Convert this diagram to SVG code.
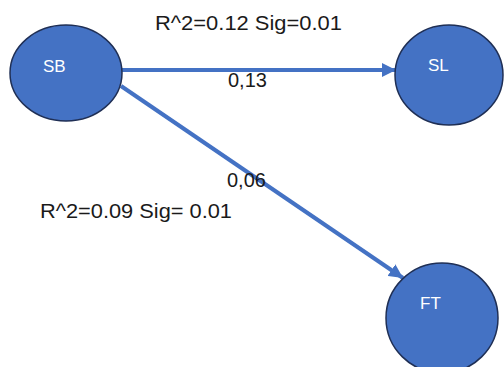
<svg xmlns="http://www.w3.org/2000/svg" width="504" height="367" viewBox="0 0 504 367">
<style>
.node{fill:#4472C4;stroke:#1F2F55;stroke-width:1.5}
.nl{font-family:"Liberation Sans",Arial,sans-serif;font-size:17px;fill:#ffffff}
.lbl{font-family:"Liberation Sans",Arial,sans-serif;font-size:20px;fill:#1a1a1a}
.edge{stroke:#4472C4;stroke-width:4;fill:none}
</style>
<defs>
<marker id="ah" markerUnits="userSpaceOnUse" markerWidth="16" markerHeight="14" refX="14" refY="7" orient="auto">
<path d="M0,0 L14,7 L0,14 Z" fill="#4472C4"/>
</marker>
</defs>
<rect width="504" height="367" fill="#ffffff"/>
<g id="connectors">
<line class="edge" x1="122" y1="70" x2="396" y2="70" marker-end="url(#ah)"/>
<line class="edge" x1="121" y1="86" x2="403" y2="278" marker-end="url(#ah)"/>
</g>
<g id="SB">
<ellipse class="node" cx="66" cy="73" rx="56" ry="48"/>
<text class="nl" x="43" y="72">SB</text>
</g>
<g id="SL">
<ellipse class="node" cx="449" cy="75" rx="54" ry="50"/>
<text class="nl" x="428" y="71">SL</text>
</g>
<g id="FT">
<ellipse class="node" cx="442" cy="318" rx="56" ry="55"/>
<text class="nl" x="420" y="309">FT</text>
</g>
<g id="labels">
<text class="lbl" x="155" y="30" textLength="187" lengthAdjust="spacingAndGlyphs">R^2=0.12 Sig=0.01</text>
<text class="lbl" x="228" y="87">0,13</text>
<text class="lbl" x="227" y="187">0,06</text>
<text class="lbl" x="40" y="218" textLength="192" lengthAdjust="spacingAndGlyphs">R^2=0.09 Sig= 0.01</text>
</g>
</svg>
